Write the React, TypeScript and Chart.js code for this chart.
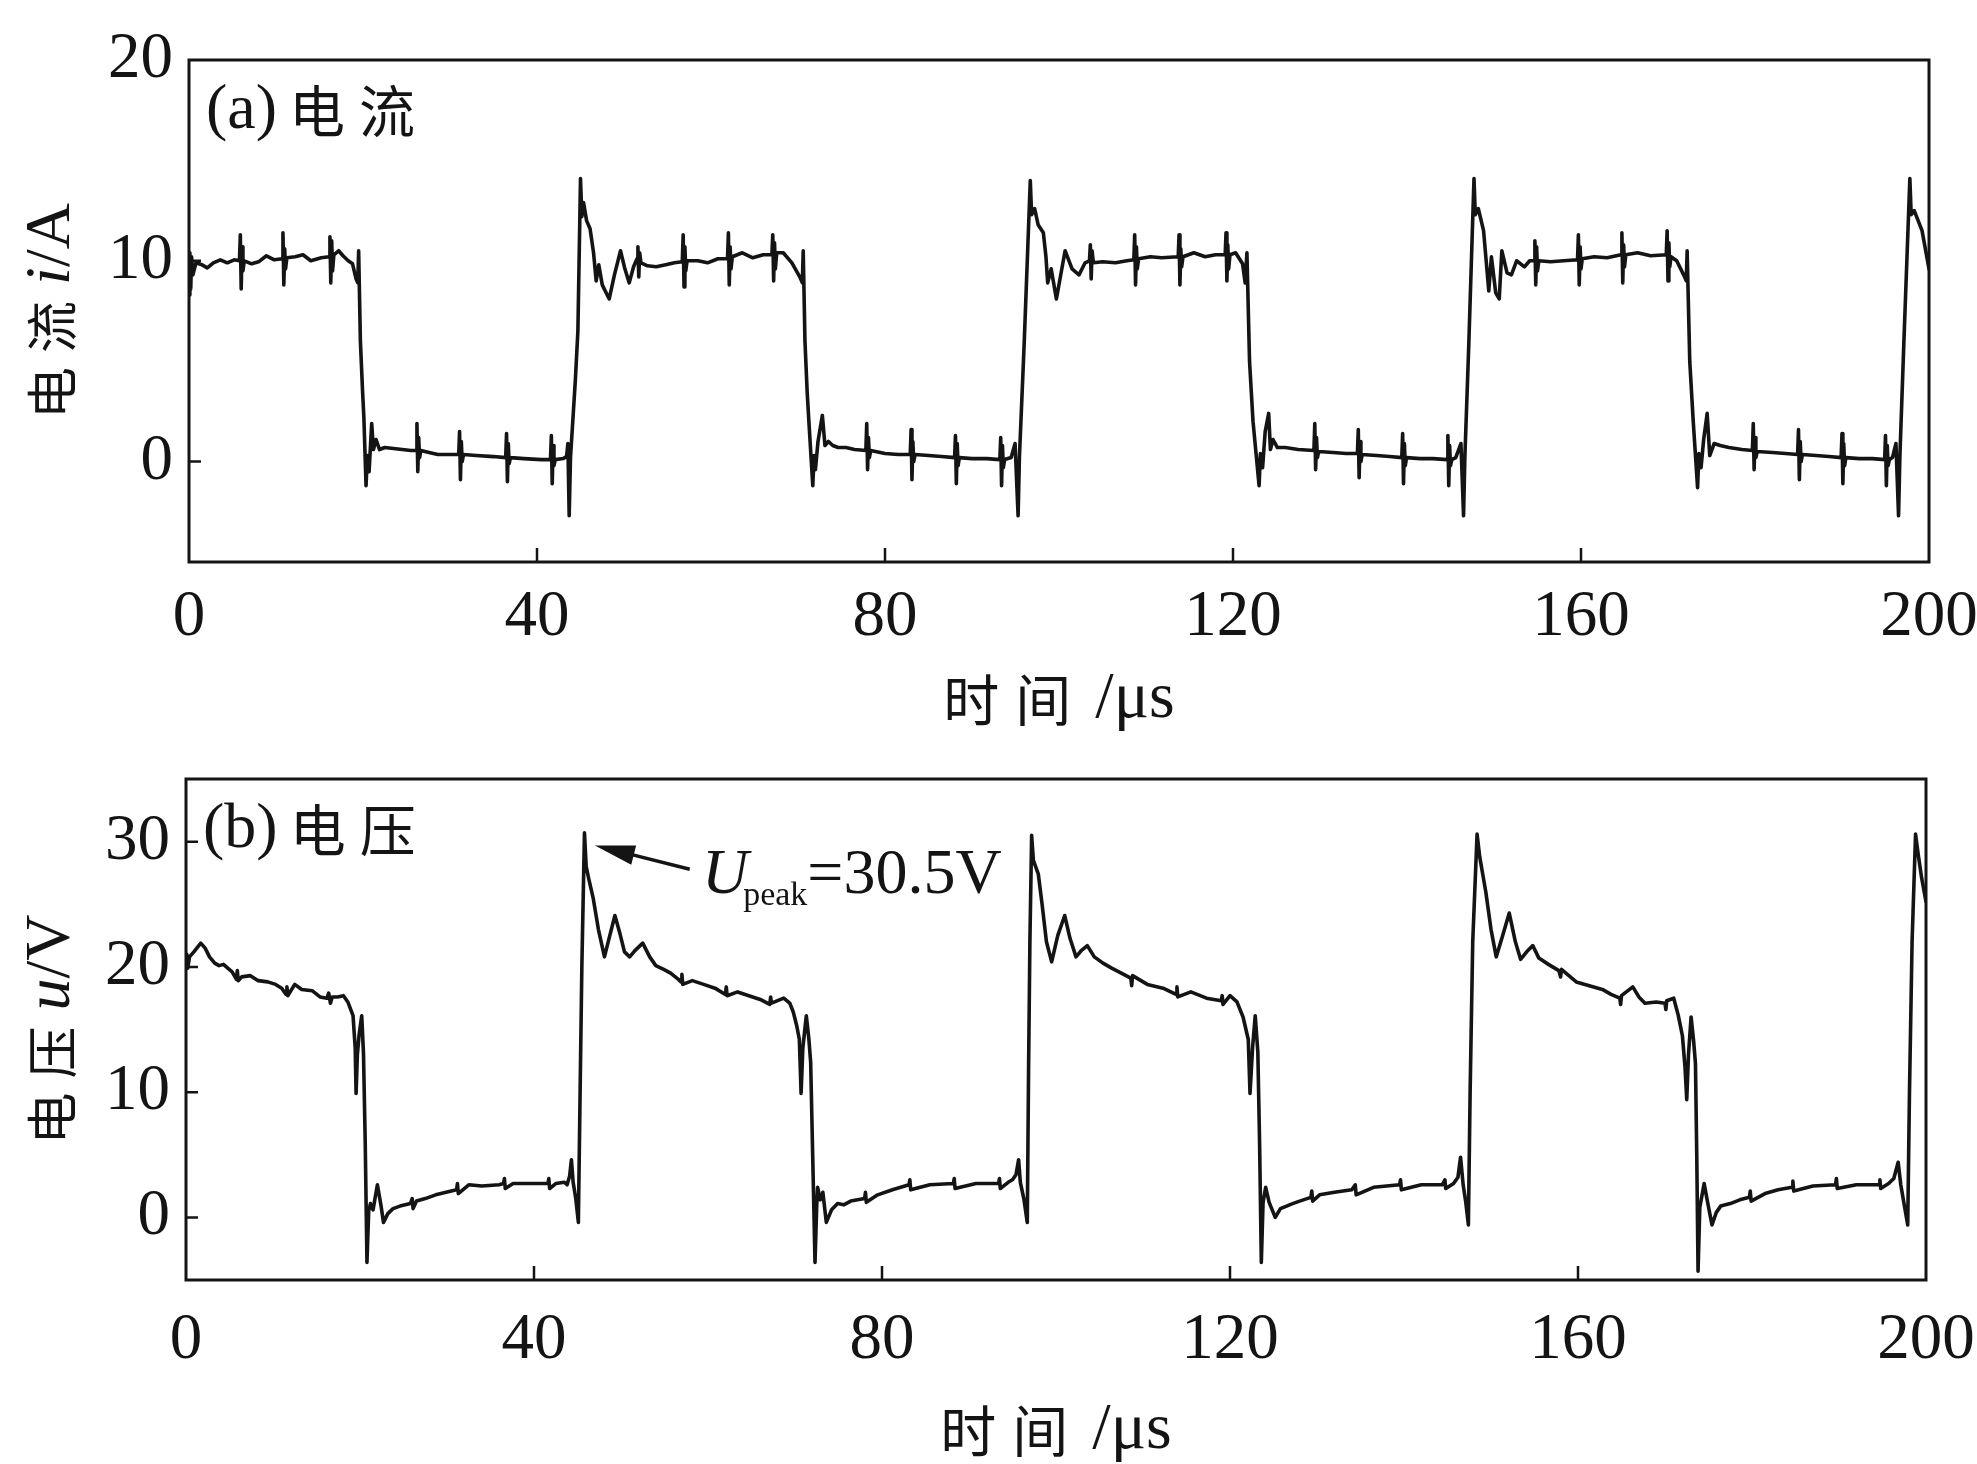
import React, { useEffect, useRef } from "react";
import { Chart, registerables } from "chart.js";

Chart.register(...registerables);

const SERIF = "'Liberation Serif', 'Times New Roman', serif";
const CJK = "'Noto Sans CJK SC', 'Noto Sans CJK JP', sans-serif";
const INK = "#141414";

// ---- axis definitions ----
const timeTicks = [0, 40, 80, 120, 160, 200];
const timeRange = [0, 200];
const currentTicks = [0, 10, 20];
const currentRange = [-5, 20];
const voltageTicks = [0, 10, 20, 30];
const voltageRange = [-5, 35];

// ---- current waveform: [time µs, current A] ----
const currentSeries: number[][] = [
  [0.0, 8.3], [0.1, 10.4], [0.2, 8.6], [0.3, 10.2], [0.45, 9.3], [0.8, 9.9], [1.5, 9.8], [2.1, 9.65], [2.8, 9.9], [3.6, 10.05], [4.4, 9.9], [5.2, 10.05], [5.8, 10.0],
  [5.9, 11.3], [6.0, 8.6], [6.1, 10.7], [6.2, 9.5], [6.35, 10.0],
  [7.2, 9.85], [8.0, 9.95], [8.9, 10.25], [9.8, 10.05], [10.7, 10.1],
  [10.8, 11.4], [10.9, 8.8], [11.0, 10.6], [11.1, 9.6], [11.25, 10.15],
  [12.2, 10.2], [13.1, 10.3], [14.0, 10.0], [15.2, 10.15], [16.1, 10.2],
  [16.2, 11.2], [16.3, 8.9], [16.4, 11.0], [16.5, 9.5], [16.65, 10.3],
  [17.2, 10.5], [17.7, 10.25], [18.3, 10.0], [18.8, 9.85], [19.2, 9.1], [19.4, 8.9], [19.5, 10.5], [19.7, 6.0], [19.95, 3.5], [20.1, 2.2], [20.35, -1.2], [20.5, 0.3], [20.7, -0.5], [21.0, 1.9], [21.2, 0.6], [21.5, 1.1], [21.9, 0.6], [22.5, 0.7], [23.5, 0.65], [24.5, 0.6], [25.5, 0.55], [26.1, 0.55],
  [26.2, 1.9], [26.3, -0.5], [26.4, 1.2], [26.5, 0.2], [26.65, 0.55],
  [27.6, 0.45], [28.6, 0.35], [30.0, 0.35], [31.0, 0.35],
  [31.1, 1.5], [31.2, -0.9], [31.3, 1.0], [31.4, 0.0], [31.55, 0.35],
  [33.0, 0.3], [35.0, 0.25], [36.4, 0.2],
  [36.5, 1.4], [36.6, -1.0], [36.7, 0.9], [36.8, -0.1], [36.95, 0.2],
  [38.5, 0.15], [40.5, 0.1], [41.55, 0.1],
  [41.65, 1.3], [41.75, -1.1], [41.85, 0.8], [41.95, -0.2], [42.1, 0.1],
  [43.0, 0.15], [43.4, 0.25], [43.55, 0.9], [43.7, -2.7], [43.85, 0.2], [44.4, 4.0], [44.7, 6.5], [45.0, 14.1], [45.15, 12.2], [45.35, 12.9], [45.7, 12.0], [46.1, 11.6], [46.5, 10.4], [46.8, 9.0], [47.1, 9.8], [47.5, 8.8], [48.3, 8.1], [48.9, 9.3], [49.6, 10.5], [50.1, 9.6], [50.6, 8.9], [51.1, 9.7], [51.5, 10.1],
  [51.6, 10.7], [51.7, 9.2], [51.8, 10.4], [51.95, 9.9],
  [52.7, 9.75], [53.7, 9.7], [54.8, 9.8], [55.8, 9.9], [56.7, 9.95],
  [56.8, 11.3], [56.9, 8.7], [57.0, 10.7], [57.1, 9.5], [57.25, 10.0],
  [58.5, 10.0], [59.6, 9.9], [60.8, 10.1], [61.9, 10.1],
  [62.0, 11.4], [62.1, 8.8], [62.2, 10.7], [62.3, 9.6], [62.45, 10.2],
  [63.6, 10.4], [64.8, 10.15], [66.0, 10.3], [67.0, 10.3],
  [67.1, 11.3], [67.2, 9.0], [67.3, 10.9], [67.4, 9.6], [67.55, 10.4],
  [68.3, 10.4], [69.3, 9.9], [70.2, 9.2], [70.5, 8.9], [70.6, 10.5], [70.8, 6.0], [71.05, 3.5], [71.25, 2.0], [71.7, -1.2], [71.85, 0.3], [72.0, -0.4], [72.3, 1.0], [72.8, 2.3], [73.1, 0.8], [73.5, 1.0], [74.0, 0.8], [74.6, 0.7], [75.5, 0.7], [76.5, 0.6], [77.8, 0.55],
  [77.9, 1.9], [78.0, -0.4], [78.1, 1.2], [78.2, 0.2], [78.35, 0.55],
  [80.0, 0.4], [81.5, 0.35], [82.9, 0.35],
  [83.0, 1.6], [83.1, -0.9], [83.2, 1.0], [83.3, 0.0], [83.45, 0.35],
  [85.0, 0.3], [86.5, 0.25], [88.0, 0.2],
  [88.1, 1.3], [88.2, -1.1], [88.3, 0.9], [88.4, -0.2], [88.55, 0.2],
  [90.0, 0.15], [91.7, 0.15], [93.2, 0.1],
  [93.3, 1.2], [93.4, -1.2], [93.5, 0.8], [93.6, -0.3], [93.75, 0.1],
  [94.5, 0.2], [94.95, 0.9], [95.3, -2.7], [95.45, 0.2], [96.0, 5.9], [96.7, 14.0], [96.85, 12.3], [97.2, 12.6], [97.6, 11.8], [98.2, 11.4], [98.5, 10.2], [98.7, 8.9], [99.1, 9.6], [99.7, 8.1], [100.7, 10.5], [101.5, 9.6], [102.3, 9.3], [103.0, 9.9], [103.5, 10.0],
  [103.6, 10.8], [103.7, 9.1], [103.8, 10.5], [103.95, 9.9],
  [105.0, 9.95], [106.5, 9.9], [107.8, 10.0], [108.6, 10.05],
  [108.7, 11.3], [108.8, 8.8], [108.9, 10.7], [109.0, 9.6], [109.15, 10.1],
  [110.5, 10.2], [111.8, 10.15], [113.7, 10.2],
  [113.8, 11.3], [113.9, 8.8], [114.0, 10.6], [114.1, 9.7], [114.25, 10.2],
  [115.5, 10.4], [116.8, 10.2], [118.0, 10.3], [119.1, 10.3],
  [119.2, 11.4], [119.3, 9.0], [119.4, 10.8], [119.5, 9.6], [119.65, 10.3],
  [120.3, 10.4], [121.1, 9.85], [121.4, 8.9], [121.6, 10.4], [121.9, 5.0], [122.3, 2.0], [123.0, -1.2], [123.15, 0.4], [123.4, -0.3], [123.7, 1.5], [124.1, 2.4], [124.3, 0.6], [124.6, 1.1], [125.1, 0.7], [126.0, 0.7], [127.5, 0.6], [129.3, 0.55],
  [129.4, 1.9], [129.5, -0.4], [129.6, 1.2], [129.7, 0.2], [129.85, 0.5],
  [131.5, 0.45], [133.0, 0.4], [134.3, 0.4],
  [134.4, 1.6], [134.5, -0.8], [134.6, 1.0], [134.7, 0.0], [134.85, 0.35],
  [136.5, 0.3], [138.0, 0.25], [139.4, 0.2],
  [139.5, 1.4], [139.6, -1.1], [139.7, 0.9], [139.8, -0.2], [139.95, 0.2],
  [141.5, 0.15], [143.0, 0.15], [144.6, 0.1],
  [144.7, 1.3], [144.8, -1.2], [144.9, 0.8], [145.0, -0.2], [145.15, 0.1],
  [145.6, 0.2], [146.2, 0.9], [146.5, -2.7], [146.65, 0.2], [147.1, 5.8], [147.7, 14.1], [147.85, 12.3], [148.2, 12.6], [148.8, 11.5], [149.1, 10.0], [149.4, 8.5], [149.7, 10.2], [150.2, 8.4], [150.6, 8.1], [150.9, 10.5], [151.5, 9.4], [152.0, 9.3], [152.6, 10.0],
  [153.5, 9.7], [154.1, 10.0], [154.6, 10.0],
  [154.7, 11.0], [154.8, 8.8], [154.9, 10.7], [155.0, 9.5], [155.15, 10.0],
  [156.5, 9.95], [158.0, 10.0], [159.6, 10.05],
  [159.7, 11.3], [159.8, 8.8], [159.9, 10.7], [160.0, 9.6], [160.15, 10.1],
  [161.5, 10.2], [163.0, 10.15], [164.6, 10.3],
  [164.7, 11.4], [164.8, 8.9], [164.9, 10.8], [165.0, 9.7], [165.15, 10.3],
  [166.5, 10.4], [168.0, 10.25], [169.8, 10.3],
  [169.9, 11.5], [170.0, 9.0], [170.1, 10.9], [170.2, 9.7], [170.35, 10.2],
  [171.0, 10.0], [171.8, 9.3], [172.1, 9.0], [172.2, 10.5], [172.5, 5.0], [172.9, 2.0], [173.4, -1.3], [173.55, 0.4], [173.8, -0.3], [174.1, 1.1], [174.5, 2.4], [174.8, 0.3], [175.3, 0.9], [176.0, 0.8], [177.0, 0.7], [178.5, 0.6], [179.7, 0.55],
  [179.8, 1.9], [179.9, -0.4], [180.0, 1.2], [180.1, 0.2], [180.25, 0.5],
  [182.0, 0.45], [183.5, 0.4], [184.9, 0.35],
  [185.0, 1.6], [185.1, -0.9], [185.2, 1.0], [185.3, 0.0], [185.45, 0.35],
  [187.0, 0.3], [188.5, 0.25], [189.9, 0.2],
  [190.0, 1.4], [190.1, -1.1], [190.2, 0.9], [190.3, -0.2], [190.45, 0.2],
  [192.0, 0.15], [193.5, 0.15], [194.9, 0.1],
  [195.0, 1.3], [195.1, -1.2], [195.2, 0.8], [195.3, -0.2], [195.45, 0.1],
  [195.8, 0.2], [196.2, 0.9], [196.5, -2.7], [196.65, 0.2], [197.1, 5.8], [197.8, 14.1], [197.95, 12.3], [198.3, 12.5], [199.2, 11.5], [200.0, 9.6],
];

// ---- voltage waveform: [time µs, voltage V] ----
const voltageSeries: number[][] = [
  [0.0, 20.2], [0.1, 21.0], [0.2, 19.9], [0.4, 20.8], [0.9, 21.2], [1.7, 21.9], [2.2, 21.5], [2.7, 20.8], [3.3, 20.3], [3.8, 20.1], [4.3, 20.2], [4.8, 19.9], [5.3, 19.6], [5.8, 19.0], [5.9, 19.7], [6.0, 18.9], [6.4, 19.2], [7.4, 19.3], [8.3, 18.9], [9.4, 18.8], [10.3, 18.6], [11.0, 18.3], [11.5, 17.8], [11.6, 18.4], [11.7, 17.7], [12.5, 18.6], [13.3, 18.2], [14.5, 18.1], [15.4, 17.6], [16.2, 17.5], [16.4, 17.9], [16.6, 17.1], [16.8, 17.6], [17.4, 17.6], [18.1, 17.7], [18.6, 17.2], [19.2, 16.1], [19.45, 13.5], [19.55, 9.9], [19.7, 13.0], [19.9, 14.6], [20.2, 16.1], [20.4, 13.1], [20.6, 6.0], [20.8, -3.6], [21.0, 0.5], [21.2, 1.1], [21.5, 0.6], [22.0, 2.6], [22.4, 1.0], [22.7, -0.4], [23.2, 0.3], [23.8, 0.7], [24.6, 0.9], [25.8, 1.1], [26.0, 1.5], [26.1, 0.7], [26.5, 1.3], [27.5, 1.5], [28.7, 1.8], [29.9, 2.0], [31.1, 2.2], [31.2, 2.7], [31.3, 1.9], [32.5, 2.6], [34.0, 2.5], [36.0, 2.6], [36.5, 2.7], [36.6, 3.1], [36.7, 2.3], [37.6, 2.7], [39.5, 2.7], [41.6, 2.7], [41.7, 3.1], [41.8, 2.3], [42.5, 2.7], [43.5, 2.8], [43.8, 2.6], [44.1, 3.3], [44.3, 4.6], [44.5, 2.8], [44.8, 1.5], [45.1, -0.4], [45.3, 10.0], [45.5, 20.0], [45.8, 30.7], [46.0, 28.0], [46.3, 27.0], [46.8, 25.5], [47.4, 23.0], [48.1, 20.8], [48.6, 22.2], [49.3, 24.1], [49.9, 22.6], [50.4, 21.2], [51.0, 20.8], [51.6, 21.3], [52.5, 21.9], [53.3, 20.8], [54.0, 20.1], [54.9, 19.8], [55.7, 19.5], [56.6, 19.0], [56.9, 18.8], [57.0, 19.4], [57.1, 18.6], [58.2, 18.9], [59.5, 18.6], [60.8, 18.3], [62.0, 17.8], [62.1, 18.4], [62.2, 17.7], [63.4, 18.0], [64.7, 17.7], [66.0, 17.4], [67.1, 17.0], [67.2, 17.6], [67.3, 17.1], [68.7, 17.5], [69.4, 17.1], [69.8, 16.4], [70.2, 15.3], [70.5, 14.2], [70.7, 9.9], [70.9, 13.5], [71.3, 16.1], [71.6, 14.2], [71.8, 12.4], [72.0, 6.0], [72.3, -3.6], [72.5, 1.0], [72.6, 2.4], [72.9, 1.4], [73.2, 2.0], [73.6, -0.4], [74.2, 0.6], [74.9, 1.1], [75.6, 1.0], [76.4, 1.3], [77.2, 1.4], [78.0, 1.5], [78.1, 2.0], [78.2, 1.2], [79.5, 1.8], [81.2, 2.2], [83.1, 2.6], [83.2, 3.0], [83.3, 2.2], [85.5, 2.6], [88.2, 2.7], [88.3, 3.1], [88.4, 2.3], [90.8, 2.7], [93.4, 2.7], [93.5, 3.1], [93.6, 2.3], [94.5, 2.8], [95.0, 3.0], [95.4, 3.4], [95.7, 4.6], [95.9, 2.8], [96.3, 1.5], [96.7, -0.4], [96.85, 12.0], [97.0, 22.0], [97.2, 30.5], [97.4, 28.5], [97.97, 27.4], [98.4, 25.0], [98.9, 22.0], [99.5, 20.4], [100.2, 22.5], [101.0, 24.1], [101.6, 22.3], [102.3, 20.8], [102.9, 21.3], [103.6, 21.7], [104.4, 20.8], [105.4, 20.3], [106.4, 19.9], [107.5, 19.5], [108.6, 19.1], [108.7, 18.5], [108.8, 19.3], [110.5, 18.6], [112.3, 18.3], [113.8, 17.8], [113.9, 18.4], [114.0, 17.6], [115.5, 18.0], [117.3, 17.5], [119.0, 17.3], [119.1, 17.7], [119.2, 17.0], [120.0, 17.7], [120.8, 17.2], [121.5, 16.0], [122.1, 14.2], [122.3, 9.9], [122.6, 13.6], [122.9, 16.1], [123.2, 13.2], [123.4, 6.0], [123.6, -3.6], [123.8, 1.2], [124.1, 2.4], [124.5, 1.2], [125.2, 0.0], [125.8, 0.7], [126.5, 0.9], [127.2, 1.1], [128.0, 1.3], [129.3, 1.6], [129.4, 2.1], [129.5, 1.3], [130.3, 1.8], [132.0, 2.0], [134.0, 2.2], [134.4, 2.6], [134.5, 1.8], [136.5, 2.4], [139.5, 2.6], [139.6, 3.0], [139.7, 2.2], [142.0, 2.6], [144.4, 2.6], [144.7, 3.0], [144.8, 2.3], [145.7, 2.7], [146.2, 3.2], [146.5, 4.8], [146.8, 2.6], [147.1, 1.2], [147.4, -0.6], [147.6, 10.0], [147.9, 22.0], [148.4, 30.6], [148.7, 28.8], [149.4, 26.0], [150.0, 23.0], [150.6, 20.8], [151.3, 22.4], [152.1, 24.3], [152.8, 22.0], [153.4, 20.6], [154.1, 21.2], [154.8, 21.7], [155.5, 20.7], [156.6, 20.2], [157.8, 19.7], [158.0, 19.2], [158.1, 19.8], [159.8, 18.8], [161.3, 18.5], [162.8, 18.2], [163.8, 17.8], [164.8, 17.5], [164.9, 17.0], [165.0, 17.7], [166.3, 18.4], [167.0, 17.6], [167.7, 17.1], [169.0, 17.2], [170.0, 17.1], [170.1, 16.6], [170.2, 17.3], [171.0, 17.5], [171.5, 16.2], [172.0, 14.5], [172.3, 12.0], [172.5, 9.4], [172.7, 13.0], [173.0, 16.0], [173.3, 14.0], [173.5, 12.3], [173.65, 5.0], [173.8, -4.3], [174.0, 0.8], [174.5, 2.7], [174.9, 1.2], [175.4, -0.6], [175.9, 0.4], [176.4, 0.9], [177.5, 1.1], [178.6, 1.4], [179.7, 1.6], [179.8, 2.1], [179.9, 1.3], [181.5, 1.9], [183.0, 2.2], [184.6, 2.4], [184.7, 2.9], [184.8, 2.1], [187.0, 2.5], [189.6, 2.6], [189.7, 3.1], [189.8, 2.3], [192.0, 2.6], [194.6, 2.6], [194.7, 3.0], [194.8, 2.3], [195.7, 2.7], [196.3, 3.1], [196.8, 4.4], [197.1, 2.6], [197.5, 1.0], [197.9, -0.6], [198.1, 10.0], [198.4, 22.0], [198.8, 30.6], [199.1, 29.0], [199.5, 27.1], [200.0, 25.2],
];

// ---- annotation anchor (data coordinates) ----
const peakArrowTip = [47.0, 29.7];
const peakArrowTail = [57.9, 27.8];
const peakTextAnchor = [59.3, 25.9];
const peakTextParts = ["U", "peak", "=30.5V"];

type Run = { text: string; font: string; dx?: number; dy?: number };

function runsWidth(ctx: CanvasRenderingContext2D, runs: Run[]) {
  let w = 0;
  for (const r of runs) {
    ctx.font = r.font;
    w += (r.dx || 0) + ctx.measureText(r.text).width;
  }
  return w;
}

function drawRuns(ctx: CanvasRenderingContext2D, x: number, y: number, runs: Run[]) {
  let cx = x;
  for (const r of runs) {
    ctx.font = r.font;
    cx += r.dx || 0;
    ctx.fillText(r.text, cx, y + (r.dy || 0));
    cx += ctx.measureText(r.text).width;
  }
}

interface PanelSpec {
  series: number[][];
  yRange: number[];
  yTicks: number[];
  width: number;
  height: number;
  padTop: number;
  padRight: number;
  yAxisWidth: number;
  xAxisHeight: number;
  xLabelPad: number;
  yLabelPad: number;
  panelRuns: Run[];
  yTitleRuns: Run[];
  yTitleX: number;
  xTitleOffset: number;
  note: boolean;
}

const xTitleRuns: Run[] = [
  { text: "时", font: `56px ${CJK}` },
  { text: "间", font: `56px ${CJK}`, dx: 16 },
  { text: "/", font: `66px ${SERIF}`, dx: 24 },
  { text: "μs", font: `66px ${SERIF}` },
];

function makeChart(canvas: HTMLCanvasElement, spec: PanelSpec) {
  const decor = {
    id: "decor",
    afterDraw(chart: any) {
      const { ctx, chartArea: a, scales } = chart;
      const xs = scales.x;
      const ys = scales.y;
      ctx.save();
      ctx.strokeStyle = INK;
      ctx.fillStyle = INK;
      // inner ticks
      ctx.lineWidth = 2.5;
      ctx.beginPath();
      xs.ticks.forEach((t: any) => {
        const px = xs.getPixelForValue(t.value);
        if (px <= a.left + 3 || px >= a.right - 3) return;
        ctx.moveTo(px, a.bottom);
        ctx.lineTo(px, a.bottom - 14);
      });
      ys.ticks.forEach((t: any) => {
        const py = ys.getPixelForValue(t.value);
        if (py <= a.top + 3 || py >= a.bottom - 3) return;
        ctx.moveTo(a.left, py);
        ctx.lineTo(a.left + 12, py);
      });
      ctx.stroke();
      // frame
      ctx.lineWidth = 3;
      ctx.strokeRect(a.left, a.top, a.right - a.left, a.bottom - a.top);

      // panel label
      ctx.textBaseline = "alphabetic";
      ctx.textAlign = "left";
      drawRuns(ctx, a.left + 17, a.top + 68, spec.panelRuns);

      // y title (rotated)
      ctx.save();
      ctx.translate(spec.yTitleX, (a.top + a.bottom) / 2);
      ctx.rotate(-Math.PI / 2);
      ctx.textBaseline = "middle";
      const yw = runsWidth(ctx, spec.yTitleRuns);
      drawRuns(ctx, -yw / 2, 0, spec.yTitleRuns);
      ctx.restore();

      // x title
      ctx.textBaseline = "middle";
      const xw = runsWidth(ctx, xTitleRuns);
      drawRuns(ctx, (a.left + a.right) / 2 - xw / 2, a.bottom + spec.xTitleOffset, xTitleRuns);

      // peak annotation
      if (spec.note) {
        const tx = xs.getPixelForValue(peakArrowTip[0]);
        const ty = ys.getPixelForValue(peakArrowTip[1]);
        const sx = xs.getPixelForValue(peakArrowTail[0]);
        const sy = ys.getPixelForValue(peakArrowTail[1]);
        const ang = Math.atan2(ty - sy, tx - sx);
        const headLen = 40;
        const headHalf = 10;
        const bx = tx - headLen * Math.cos(ang);
        const by = ty - headLen * Math.sin(ang);
        ctx.lineWidth = 3.5;
        ctx.beginPath();
        ctx.moveTo(sx, sy);
        ctx.lineTo(bx + 4 * Math.cos(ang), by + 4 * Math.sin(ang));
        ctx.stroke();
        ctx.beginPath();
        ctx.moveTo(tx, ty);
        ctx.lineTo(bx - headHalf * Math.sin(ang), by + headHalf * Math.cos(ang));
        ctx.lineTo(bx + headHalf * Math.sin(ang), by - headHalf * Math.cos(ang));
        ctx.closePath();
        ctx.fill();

        ctx.textBaseline = "alphabetic";
        const px = xs.getPixelForValue(peakTextAnchor[0]);
        const py = ys.getPixelForValue(peakTextAnchor[1]);
        drawRuns(ctx, px, py, [
          { text: peakTextParts[0], font: `italic 64px ${SERIF}` },
          { text: peakTextParts[1], font: `34px ${SERIF}`, dx: -5, dy: 12 },
          { text: peakTextParts[2], font: `64px ${SERIF}` },
        ]);
      }
      ctx.restore();
    },
  };

  const tickFont = { family: SERIF, size: 65, lineHeight: 1 };

  return new Chart(canvas, {
    type: "line",
    data: {
      datasets: [
        {
          data: spec.series.map(([t, v]) => ({ x: t, y: v })),
          borderColor: INK,
          borderWidth: 3.6,
          borderJoinStyle: "round",
          borderCapStyle: "round",
          pointRadius: 0,
          tension: 0,
          fill: false,
        },
      ],
    },
    options: {
      animation: false,
      responsive: false,
      devicePixelRatio: 1,
      layout: { padding: { top: spec.padTop, right: spec.padRight, left: 0, bottom: 0 } },
      plugins: { legend: { display: false }, title: { display: false }, tooltip: { enabled: false } },
      events: [],
      scales: {
        x: {
          type: "linear",
          min: timeRange[0],
          max: timeRange[1],
          grid: { display: false, drawTicks: false },
          border: { display: false },
          ticks: {
            font: tickFont,
            color: INK,
            padding: spec.xLabelPad,
            maxRotation: 0,
            minRotation: 0,
            autoSkip: false,
          },
          afterBuildTicks: (s: any) => {
            s.ticks = timeTicks.map((v) => ({ value: v }));
          },
          afterFit: (s: any) => {
            s.height = spec.xAxisHeight;
            s.paddingLeft = 0;
            s.paddingRight = 0;
            s.paddingTop = 0;
            s.paddingBottom = 0;
          },
        },
        y: {
          type: "linear",
          min: spec.yRange[0],
          max: spec.yRange[1],
          grid: { display: false, drawTicks: false },
          border: { display: false },
          ticks: { font: tickFont, color: INK, padding: spec.yLabelPad, autoSkip: false },
          afterBuildTicks: (s: any) => {
            s.ticks = spec.yTicks.map((v) => ({ value: v }));
          },
          afterFit: (s: any) => {
            s.width = spec.yAxisWidth;
            s.paddingLeft = 0;
            s.paddingRight = 0;
            s.paddingTop = 0;
            s.paddingBottom = 0;
          },
        },
      },
    },
    plugins: [decor],
  } as any);
}

const topSpec: PanelSpec = {
  series: currentSeries,
  yRange: currentRange,
  yTicks: currentTicks,
  width: 1977,
  height: 740,
  padTop: 60,
  padRight: 48,
  yAxisWidth: 189,
  xAxisHeight: 178,
  xLabelPad: 23,
  yLabelPad: 16,
  panelRuns: [
    { text: "(a)", font: `64px ${SERIF}` },
    { text: "电", font: `56px ${CJK}`, dx: 12, dy: 4 },
    { text: "流", font: `56px ${CJK}`, dx: 14, dy: 4 },
  ],
  yTitleRuns: [
    { text: "电", font: `52px ${CJK}` },
    { text: "流", font: `52px ${CJK}`, dx: 14 },
    { text: "i", font: `italic 64px ${SERIF}`, dx: 16 },
    { text: "/A", font: `64px ${SERIF}` },
  ],
  yTitleX: 52,
  xTitleOffset: 138,
  note: false,
};

const bottomSpec: PanelSpec = {
  series: voltageSeries,
  yRange: voltageRange,
  yTicks: voltageTicks,
  width: 1977,
  height: 724,
  padTop: 39,
  padRight: 51,
  yAxisWidth: 186,
  xAxisHeight: 184,
  xLabelPad: 28,
  yLabelPad: 16,
  panelRuns: [
    { text: "(b)", font: `64px ${SERIF}` },
    { text: "电", font: `56px ${CJK}`, dx: 12, dy: 4 },
    { text: "压", font: `56px ${CJK}`, dx: 14, dy: 4 },
  ],
  yTitleRuns: [
    { text: "电", font: `52px ${CJK}` },
    { text: "压", font: `52px ${CJK}`, dx: 14 },
    { text: "u", font: `italic 64px ${SERIF}`, dx: 16 },
    { text: "/V", font: `64px ${SERIF}` },
  ],
  yTitleX: 52,
  xTitleOffset: 151,
  note: true,
};

export default function App() {
  const topRef = useRef<HTMLCanvasElement>(null);
  const bottomRef = useRef<HTMLCanvasElement>(null);

  useEffect(() => {
    const c1 = makeChart(topRef.current!, topSpec);
    const c2 = makeChart(bottomRef.current!, bottomSpec);
    return () => {
      c1.destroy();
      c2.destroy();
    };
  }, []);

  return (
    <div
      style={{
        position: "absolute",
        left: 0,
        top: 0,
        width: 1977,
        height: 1464,
        background: "#ffffff",
        overflow: "hidden",
      }}
    >
      <canvas
        ref={topRef}
        width={topSpec.width}
        height={topSpec.height}
        style={{ position: "absolute", left: 0, top: 0, width: topSpec.width, height: topSpec.height }}
      />
      <canvas
        ref={bottomRef}
        width={bottomSpec.width}
        height={bottomSpec.height}
        style={{ position: "absolute", left: 0, top: 740, width: bottomSpec.width, height: bottomSpec.height }}
      />
    </div>
  );
}
